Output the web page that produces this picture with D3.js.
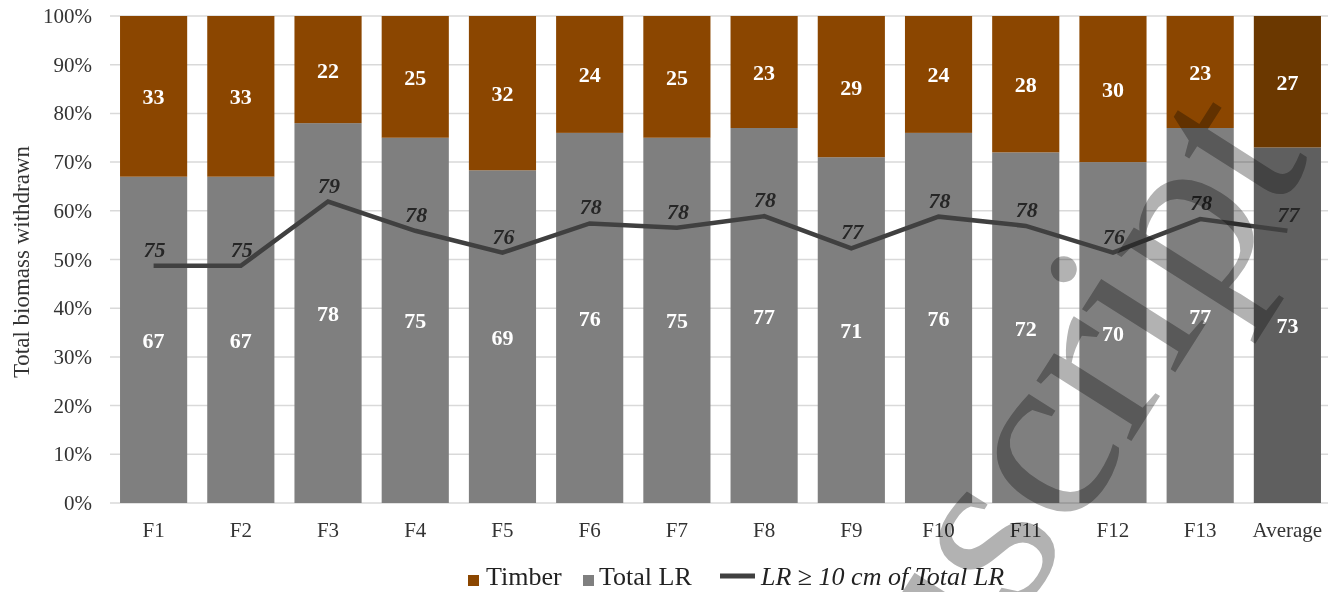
<!DOCTYPE html>
<html>
<head>
<meta charset="utf-8">
<script src="https://cdn.jsdelivr.net/npm/d3@7"></script>
<style>
  html, body { margin: 0; padding: 0; background: #fff; }
  svg { display: block; }
  svg text { font-family: 'Liberation Serif', 'Times New Roman', 'DejaVu Serif', serif; }
</style>
</head>
<body>
<div id="chart"></div>
<script>
// ---- data ----
const categories = ['F1', 'F2', 'F3', 'F4', 'F5', 'F6', 'F7', 'F8', 'F9', 'F10', 'F11', 'F12', 'F13', 'Average'];
const totalLR = [67, 67, 78, 75, 69, 76, 75, 77, 71, 76, 72, 70, 77, 73];
const timber = [33, 33, 22, 25, 32, 24, 25, 23, 29, 24, 28, 30, 23, 27];
// line position (% of total biomass) and its printed labels (% of total LR)
const lrLarge = [48.7, 48.7, 61.9, 55.9, 51.4, 57.4, 56.5, 58.9, 52.3, 58.8, 56.9, 51.4, 58.3, 55.9];
const lrLargeLabels = [75, 75, 79, 78, 76, 78, 78, 78, 77, 78, 78, 76, 78, 77];
const yTicks = [0, 10, 20, 30, 40, 50, 60, 70, 80, 90, 100];

(function () {
  'use strict';

  const W = 1334, H = 592;
  const FONT = "'Liberation Serif', 'Times New Roman', 'DejaVu Serif', serif";
  const plot = { left: 110, right: 1331, top: 16, bottom: 503 };

  const svg = d3.select('#chart').append('svg')
    .attr('width', W).attr('height', H)
    .attr('font-family', FONT);

  svg.append('rect').attr('width', W).attr('height', H).attr('fill', '#fff');

  const x = d3.scaleBand()
    .domain(categories)
    .range([plot.left, plot.right])
    .paddingInner(0.23)
    .paddingOuter(0.115);

  const y = d3.scaleLinear().domain([0, 100]).range([plot.bottom, plot.top]);

  // gridlines
  svg.append('g')
    .selectAll('line')
    .data(yTicks)
    .join('line')
    .attr('x1', plot.left).attr('x2', plot.right - 3)
    .attr('y1', d => y(d)).attr('y2', d => y(d))
    .attr('stroke', '#d9d9d9')
    .attr('stroke-width', 1.5);

  // y tick labels
  svg.append('g')
    .selectAll('text')
    .data(yTicks)
    .join('text')
    .attr('x', 92)
    .attr('y', d => y(d) + 7)
    .attr('text-anchor', 'end')
    .attr('font-size', 21)
    .attr('fill', '#333')
    .text(d => d + '%');

  // y axis title
  svg.append('text')
    .attr('transform', 'translate(29,262) rotate(-90)')
    .attr('text-anchor', 'middle')
    .attr('font-size', 23)
    .attr('fill', '#333')
    .text('Total biomass withdrawn');

  // x labels
  svg.append('g')
    .selectAll('text')
    .data(categories)
    .join('text')
    .attr('x', d => x(d) + x.bandwidth() / 2)
    .attr('y', 537)
    .attr('text-anchor', 'middle')
    .attr('font-size', 21)
    .attr('fill', '#333')
    .text(d => d);

  // 100% stacked bars
  const rows = categories.map((c, i) => {
    const sum = totalLR[i] + timber[i];
    return { cat: c, lr: totalLR[i] / sum * 100, tb: timber[i] / sum * 100, lrLab: totalLR[i], tbLab: timber[i], avg: c === 'Average' };
  });

  const bars = svg.append('g').selectAll('g')
    .data(rows)
    .join('g');

  bars.append('rect')
    .attr('x', d => x(d.cat))
    .attr('width', x.bandwidth())
    .attr('y', d => y(d.lr))
    .attr('height', d => y(0) - y(d.lr))
    .attr('fill', d => d.avg ? '#5f5f5f' : '#7f7f7f');

  bars.append('rect')
    .attr('x', d => x(d.cat))
    .attr('width', x.bandwidth())
    .attr('y', y(100))
    .attr('height', d => y(d.lr) - y(100))
    .attr('fill', d => d.avg ? '#6b3800' : '#8b4600');

  bars.append('text')
    .attr('x', d => x(d.cat) + x.bandwidth() / 2)
    .attr('y', d => y(d.lr / 2) + 8)
    .attr('text-anchor', 'middle')
    .attr('font-size', 22).attr('font-weight', 'bold')
    .attr('fill', '#fff')
    .text(d => d.lrLab);

  bars.append('text')
    .attr('x', d => x(d.cat) + x.bandwidth() / 2)
    .attr('y', d => y(d.lr + d.tb / 2) + 8)
    .attr('text-anchor', 'middle')
    .attr('font-size', 22).attr('font-weight', 'bold')
    .attr('fill', '#fff')
    .text(d => d.tbLab);

  // LR >= 10 cm line
  const line = d3.line()
    .x((d, i) => x(categories[i]) + x.bandwidth() / 2)
    .y(d => y(d));

  svg.append('path')
    .datum(lrLarge)
    .attr('d', line)
    .attr('fill', 'none')
    .attr('stroke', '#404040')
    .attr('stroke-width', 4.5)
    .attr('stroke-linejoin', 'miter');

  svg.append('g')
    .selectAll('text')
    .data(lrLarge)
    .join('text')
    .attr('x', (d, i) => x(categories[i]) + x.bandwidth() / 2 + 1)
    .attr('y', d => y(d) - 9)
    .attr('text-anchor', 'middle')
    .attr('font-size', 22)
    .attr('font-style', 'italic')
    .attr('font-weight', 'bold')
    .attr('fill', '#262626')
    .text((d, i) => lrLargeLabels[i]);

  // legend
  const lg = svg.append('g').attr('font-size', 26).attr('fill', '#222');
  lg.append('rect').attr('x', 468).attr('y', 575).attr('width', 11).attr('height', 11).attr('fill', '#8b4600');
  lg.append('text').attr('x', 486).attr('y', 585).text('Timber');
  lg.append('rect').attr('x', 583).attr('y', 575).attr('width', 11).attr('height', 11).attr('fill', '#7f7f7f');
  lg.append('text').attr('x', 599).attr('y', 585).text('Total LR');
  lg.append('line').attr('x1', 720).attr('x2', 755).attr('y1', 576).attr('y2', 576)
    .attr('stroke', '#404040').attr('stroke-width', 5);
  lg.append('text').attr('x', 761).attr('y', 585).attr('font-style', 'italic').text('LR ≥ 10 cm of Total LR');

  // "Manuscript" watermark laid over the chart
  svg.append('text')
    .attr('transform', 'translate(1311,158) rotate(-57.6)')
    .attr('text-anchor', 'end')
    .attr('font-size', 245)
    .attr('fill', '#b2b2b2')
    .style('mix-blend-mode', 'multiply')
    .text('Manuscript');
})();
</script>
</body>
</html>
